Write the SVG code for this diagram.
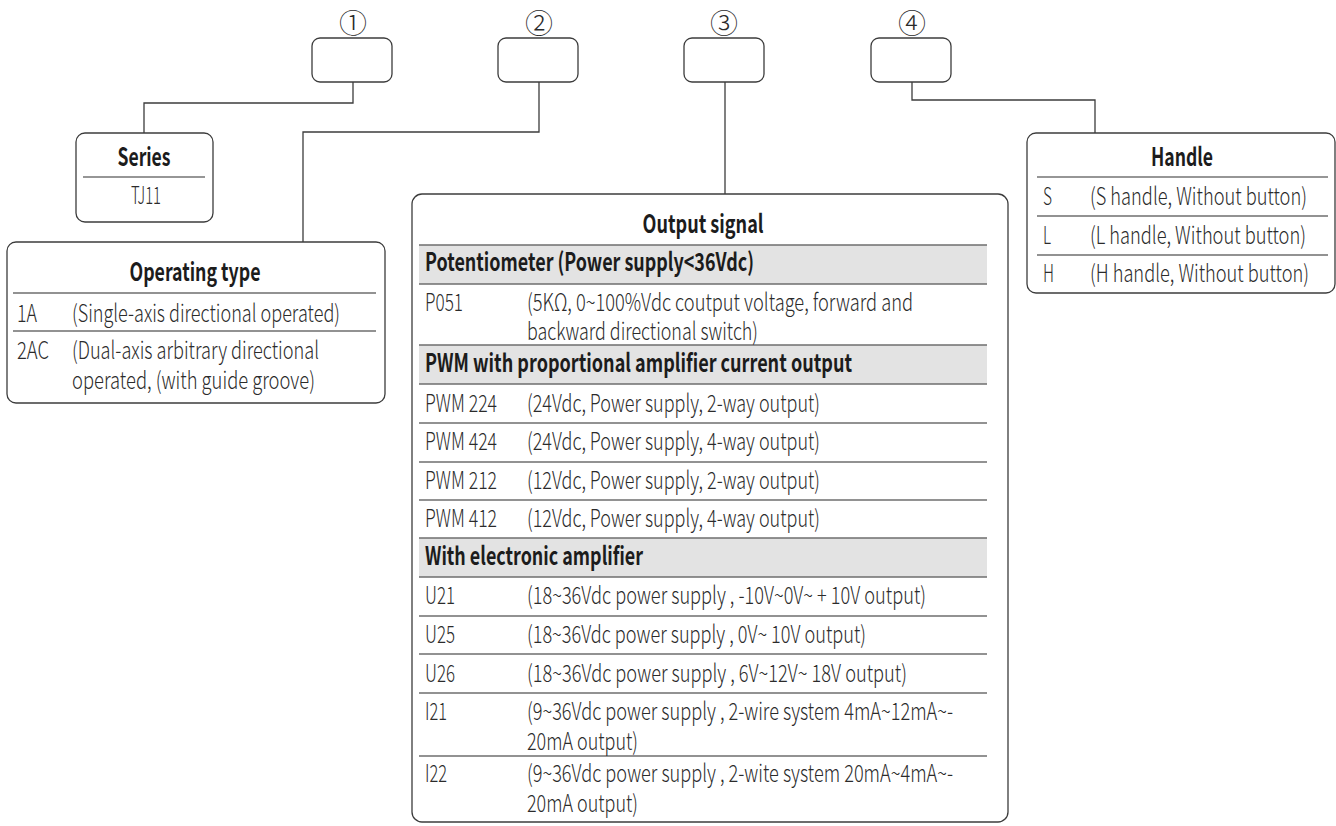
<svg xmlns="http://www.w3.org/2000/svg" width="1336" height="826" viewBox="0 0 1336 826">
<style>
  .box{fill:#ffffff;stroke:#3c3c3c;stroke-width:1.3}
  .conn{fill:none;stroke:#3c3c3c;stroke-width:1.3}
  .sep{stroke:#6e6e6e;stroke-width:1.5}
  .div{stroke:#2e2e2e;stroke-width:1.2}
  .band{fill:#e3e3e3}
  text{font-family:"Noto Sans CJK SC","Noto Sans",sans-serif;fill:#2b2b2b}
  .r{font-size:24px;font-weight:300}
  .b{font-size:25px;font-weight:700;fill:#1c1c1c}
  .c{text-anchor:middle}
  .num{font-size:28px;font-weight:300;text-anchor:middle}
</style>
<rect width="1336" height="826" fill="#ffffff"/>

<g id="connectors">
  <polyline class="conn" points="353,82 353,103 144,103 144,133"/>
  <polyline class="conn" points="539,82 539,132 303,132 303,242"/>
  <polyline class="conn" points="725,82 725,194"/>
  <polyline class="conn" points="912,82 912,100 1095,100 1095,133"/>
</g>

<g id="slot1">
  <text class="num" x="353" y="34">①</text>
  <rect class="box" x="312" y="38" width="80" height="44" rx="8"/>
</g>
<g id="slot2">
  <text class="num" x="539" y="34">②</text>
  <rect class="box" x="498" y="38" width="80" height="44" rx="8"/>
</g>
<g id="slot3">
  <text class="num" x="724" y="34">③</text>
  <rect class="box" x="684" y="38" width="80" height="44" rx="8"/>
</g>
<g id="slot4">
  <text class="num" x="912" y="34">④</text>
  <rect class="box" x="871" y="38" width="80" height="44" rx="8"/>
</g>

<g id="series">
  <rect class="box" x="76" y="133" width="137" height="89" rx="9"/>
  <text class="b c" x="144" y="166" textLength="53" lengthAdjust="spacingAndGlyphs">Series</text>
  <line class="div" x1="83" y1="177" x2="205" y2="177"/>
  <text class="r c" x="146" y="204" textLength="30" lengthAdjust="spacingAndGlyphs">TJ11</text>
</g>

<g id="operating-type">
  <rect class="box" x="7" y="242" width="378" height="161" rx="9"/>
  <text class="b c" x="195" y="281" textLength="131" lengthAdjust="spacingAndGlyphs">Operating type</text>
  <line class="sep" x1="13" y1="293" x2="376" y2="293"/>
  <text class="r" x="17" y="322" textLength="20" lengthAdjust="spacingAndGlyphs">1A</text>
  <text class="r" x="72" y="322" textLength="268" lengthAdjust="spacingAndGlyphs">(Single-axis directional operated)</text>
  <line class="sep" x1="13" y1="331" x2="376" y2="331"/>
  <text class="r" x="17" y="359" textLength="32" lengthAdjust="spacingAndGlyphs">2AC</text>
  <text class="r" x="72" y="359" textLength="247" lengthAdjust="spacingAndGlyphs">(Dual-axis arbitrary directional</text>
  <text class="r" x="72" y="389" textLength="243" lengthAdjust="spacingAndGlyphs">operated, (with guide groove)</text>
</g>

<g id="output-signal">
  <rect class="box" x="412" y="194" width="596" height="628" rx="10"/>
  <text class="b c" x="703" y="233" textLength="121" lengthAdjust="spacingAndGlyphs">Output signal</text>
  <rect class="band" x="419" y="245" width="568" height="39"/>
  <rect class="band" x="419" y="345" width="568" height="39"/>
  <rect class="band" x="419" y="538" width="568" height="39"/>
  <line class="sep" x1="419" y1="245" x2="987" y2="245"/>
  <line class="sep" x1="419" y1="284" x2="987" y2="284"/>
  <line class="sep" x1="419" y1="345" x2="987" y2="345"/>
  <line class="sep" x1="419" y1="384" x2="987" y2="384"/>
  <line class="sep" x1="419" y1="423" x2="987" y2="423"/>
  <line class="sep" x1="419" y1="462" x2="987" y2="462"/>
  <line class="sep" x1="419" y1="500" x2="987" y2="500"/>
  <line class="sep" x1="419" y1="538" x2="987" y2="538"/>
  <line class="sep" x1="419" y1="577" x2="987" y2="577"/>
  <line class="sep" x1="419" y1="616" x2="987" y2="616"/>
  <line class="sep" x1="419" y1="654" x2="987" y2="654"/>
  <line class="sep" x1="419" y1="693" x2="987" y2="693"/>
  <line class="sep" x1="419" y1="756" x2="987" y2="756"/>

  <text class="b" x="425" y="271" textLength="329" lengthAdjust="spacingAndGlyphs">Potentiometer (Power supply&lt;36Vdc)</text>
  <text class="r" x="425" y="311" textLength="38" lengthAdjust="spacingAndGlyphs">P051</text>
  <text class="r" x="527" y="311" textLength="386" lengthAdjust="spacingAndGlyphs">(5KΩ, 0~100%Vdc coutput voltage, forward and</text>
  <text class="r" x="527" y="340" textLength="231" lengthAdjust="spacingAndGlyphs">backward directional switch)</text>

  <text class="b" x="425" y="372" textLength="427" lengthAdjust="spacingAndGlyphs">PWM with proportional amplifier current output</text>
  <text class="r" x="425" y="412" textLength="72" lengthAdjust="spacingAndGlyphs">PWM 224</text>
  <text class="r" x="527" y="412" textLength="293" lengthAdjust="spacingAndGlyphs">(24Vdc, Power supply, 2-way output)</text>
  <text class="r" x="425" y="450" textLength="72" lengthAdjust="spacingAndGlyphs">PWM 424</text>
  <text class="r" x="527" y="450" textLength="293" lengthAdjust="spacingAndGlyphs">(24Vdc, Power supply, 4-way output)</text>
  <text class="r" x="425" y="489" textLength="72" lengthAdjust="spacingAndGlyphs">PWM 212</text>
  <text class="r" x="527" y="489" textLength="293" lengthAdjust="spacingAndGlyphs">(12Vdc, Power supply, 2-way output)</text>
  <text class="r" x="425" y="527" textLength="72" lengthAdjust="spacingAndGlyphs">PWM 412</text>
  <text class="r" x="527" y="527" textLength="293" lengthAdjust="spacingAndGlyphs">(12Vdc, Power supply, 4-way output)</text>

  <text class="b" x="425" y="565" textLength="218" lengthAdjust="spacingAndGlyphs">With electronic amplifier</text>
  <text class="r" x="425" y="604" textLength="30" lengthAdjust="spacingAndGlyphs">U21</text>
  <text class="r" x="527" y="604" textLength="399" lengthAdjust="spacingAndGlyphs">(18~36Vdc power supply , -10V~0V~ + 10V output)</text>
  <text class="r" x="425" y="643" textLength="30" lengthAdjust="spacingAndGlyphs">U25</text>
  <text class="r" x="527" y="643" textLength="339" lengthAdjust="spacingAndGlyphs">(18~36Vdc power supply , 0V~ 10V output)</text>
  <text class="r" x="425" y="682" textLength="30" lengthAdjust="spacingAndGlyphs">U26</text>
  <text class="r" x="527" y="682" textLength="380" lengthAdjust="spacingAndGlyphs">(18~36Vdc power supply , 6V~12V~ 18V output)</text>
  <text class="r" x="425" y="720" textLength="22" lengthAdjust="spacingAndGlyphs">I21</text>
  <text class="r" x="527" y="720" textLength="426" lengthAdjust="spacingAndGlyphs">(9~36Vdc power supply , 2-wire system 4mA~12mA~-</text>
  <text class="r" x="527" y="750" textLength="111" lengthAdjust="spacingAndGlyphs">20mA output)</text>
  <text class="r" x="425" y="782" textLength="22" lengthAdjust="spacingAndGlyphs">I22</text>
  <text class="r" x="527" y="782" textLength="426" lengthAdjust="spacingAndGlyphs">(9~36Vdc power supply , 2-wite system 20mA~4mA~-</text>
  <text class="r" x="527" y="812" textLength="111" lengthAdjust="spacingAndGlyphs">20mA output)</text>
</g>

<g id="handle">
  <rect class="box" x="1027" y="133" width="308" height="160" rx="9"/>
  <text class="b c" x="1182" y="166" textLength="62" lengthAdjust="spacingAndGlyphs">Handle</text>
  <line class="div" x1="1037" y1="177" x2="1328" y2="177"/>
  <text class="r" x="1043" y="205" textLength="9" lengthAdjust="spacingAndGlyphs">S</text>
  <text class="r" x="1090" y="205" textLength="217" lengthAdjust="spacingAndGlyphs">(S handle, Without button)</text>
  <line class="sep" x1="1037" y1="216" x2="1328" y2="216"/>
  <text class="r" x="1043" y="244" textLength="8" lengthAdjust="spacingAndGlyphs">L</text>
  <text class="r" x="1090" y="244" textLength="216" lengthAdjust="spacingAndGlyphs">(L handle, Without button)</text>
  <line class="sep" x1="1037" y1="255" x2="1328" y2="255"/>
  <text class="r" x="1043" y="282" textLength="11" lengthAdjust="spacingAndGlyphs">H</text>
  <text class="r" x="1090" y="282" textLength="219" lengthAdjust="spacingAndGlyphs">(H handle, Without button)</text>
</g>
</svg>
